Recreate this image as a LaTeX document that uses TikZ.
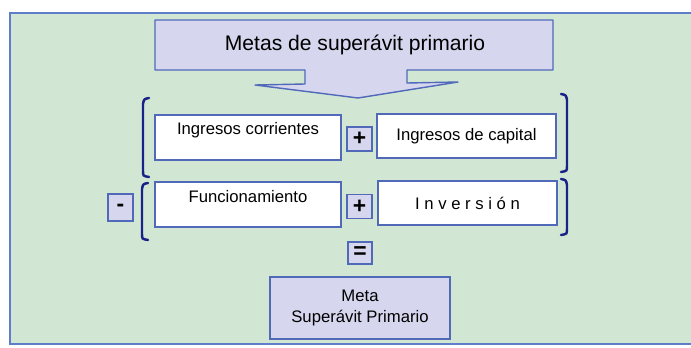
\documentclass[tikz,border=0pt]{standalone}
\usepackage{fontspec}
\setmainfont{Liberation Sans}
\usetikzlibrary{positioning}
\definecolor{bgmint}{RGB}{210,230,212}
\definecolor{frameblue}{RGB}{95,125,200}
\definecolor{boxblue}{RGB}{80,105,185}
\definecolor{lavfill}{RGB}{214,214,238}
\definecolor{brnavy}{RGB}{25,35,135}

\begin{document}
\begin{tikzpicture}[x=0.02cm,y=-0.02cm,every node/.style={font=\fontsize{9.5}{11.5}\selectfont},
  itembox/.style={draw=boxblue,fill=white,line width=.8pt,inner sep=0pt},
  opbox/.style={draw=boxblue,fill=lavfill,line width=.8pt,minimum width=0.5cm,minimum height=0.48cm,inner sep=0pt,font=\fontsize{13}{13}\bfseries\selectfont},
  bracket/.style={draw=brnavy,line width=1.4pt,line cap=round}]
\useasboundingbox (0,0) rectangle (691,348);
\fill[white] (0,0) rectangle (691,348);
\fill[bgmint] (10,13) rectangle (691,344);
\draw[frameblue,line width=.9pt] (691,13) -- (10,13) -- (10,344) -- (691,344);
% arrow with title
\coordinate (t0) at (155,20);
\coordinate (t1) at (553,20);
\coordinate (t2) at (553,70);
\coordinate (t3) at (407,70);
\coordinate (t4) at (407,83);
\coordinate (t5) at (458,82);
\coordinate (tip) at (358,98);
\coordinate (t7) at (255,85);
\coordinate (t8) at (305,84);
\coordinate (t9) at (305,70);
\coordinate (t10) at (155,70);
\draw[boxblue,fill=lavfill,line width=.8pt,line join=round] (t0)--(t1)--(t2)--(t3)--(t4)--(t5)--(tip)--(t7)--(t8)--(t9)--(t10)--cycle;
\node (title) at (355,45) {\fontsize{12}{14}\selectfont Metas de superávit primario};
% first row
\node[itembox,minimum width=3.72cm,minimum height=0.9cm] (ingcor) at (248,137.5) {};
\node (ingcortxt) at (248,130) {Ingresos corrientes};
\node[opbox] (plusa) at (359.5,139) {+};
\node[itembox,minimum width=3.58cm,minimum height=0.88cm] (ingcap) at (466.5,136) {Ingresos de capital};
% second row
\node[opbox,minimum height=0.54cm] (minus) at (120.5,207.5) {-};
\node[itembox,minimum width=3.72cm,minimum height=0.9cm] (func) at (248,204.5) {};
\node (functxt) at (248,197) {Funcionamiento};
\node[opbox] (plusb) at (359.5,206.5) {+};
\node[itembox,minimum width=3.58cm,minimum height=0.88cm] (inv) at (467.5,203) {I n v e r s i ó n};
% result
\node[opbox,minimum width=0.48cm,minimum height=0.44cm] (equal) at (360,253) {=};
\node[itembox,fill=lavfill,minimum width=3.6cm,minimum height=1.24cm,align=center] (meta) at (360,308) {Meta\\Superávit Primario};
% brackets
\draw[bracket] (149,98) .. controls (144,99) .. (143,104) -- (143,171) .. controls (143,176) .. (149,177);
\draw[bracket] (561,94) .. controls (566,95) .. (567,100) -- (567,166) .. controls (567,171) .. (561,172);
\draw[bracket] (148,183) .. controls (143,184) .. (142,189) -- (142,234) .. controls (142,239) .. (148,240);
\draw[bracket] (561,179) .. controls (566,180) .. (567,185) -- (567,229) .. controls (567,234) .. (561,235);
\end{tikzpicture}
\end{document}
